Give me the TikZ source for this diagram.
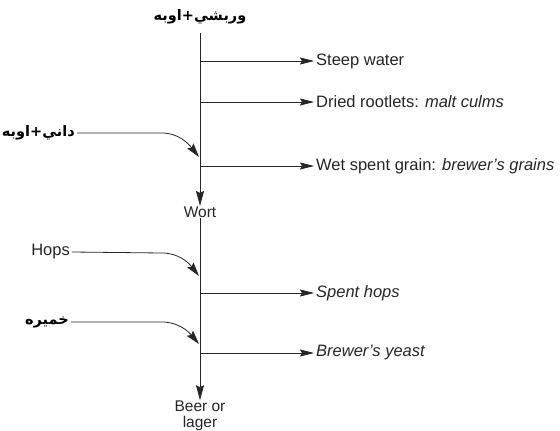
\documentclass[tikz,border=0pt]{standalone}
\usepackage{fontspec}
\setmainfont{Liberation Sans}
\newfontfamily\arabicfont[Script=Arabic]{DejaVu Sans}
\TeXXeTstate=1
\usetikzlibrary{arrows.meta}
\begin{document}
\begin{tikzpicture}[x=1pt,y=-1pt,
  ln/.style={draw=black!85,line width=0.8pt},
  arr/.style={ln,-{Stealth[length=14pt,width=7pt,inset=2pt]}},
  varr/.style={ln,-{Stealth[length=15pt,width=8pt,inset=2pt]}},
  carr/.style={ln,-{Stealth[length=14pt,width=8pt,inset=2pt]}},
  outtxt/.style={anchor=west,inner sep=2pt,font=\fontsize{16.5}{18}\selectfont,text=black!85},
  intxt/.style={anchor=east,inner sep=2pt,font=\fontsize{16.5}{18}\selectfont,text=black!85},
  artxt/.style={inner sep=2pt,font=\arabicfont\bfseries\fontsize{14.5}{17}\selectfont},
  midtxt/.style={inner sep=0.5pt,align=center,font=\fontsize{15.5}{15.5}\selectfont,text=black!85}]
\fill[white] (0,0) rectangle (560,431);
\useasboundingbox (0,0) rectangle (560,431);
% main column
\node[artxt] (top) at (200,17) {\beginR وربشي+اوبه\endR};
\node[midtxt,anchor=north] (wort) at (200,206) {Wort};
\node[midtxt,anchor=south] (beer) at (200,431) {Beer or\\lager};
\coordinate (c0) at (200,33);
\draw[varr] (c0) -- (wort.north);
\draw[varr] (wort.south) -- (beer.north);
% outputs
\node[outtxt] (o1) at (314,61) {Steep water};
\node[outtxt] (o2) at (314,102) {Dried rootlets: \textit{malt culms}};
\node[outtxt] (o3) at (314,166) {Wet spent grain: \textit{brewer’s grains}};
\node[outtxt] (o4) at (314,293) {\textit{Spent hops}};
\node[outtxt] (o5) at (314,353) {\textit{Brewer’s yeast}};
\coordinate (b1) at (200,61);
\coordinate (b2) at (200,102);
\coordinate (b3) at (200,166);
\coordinate (b4) at (200,293);
\coordinate (b5) at (200,353);
\foreach \i in {1,...,5} {\draw[arr] (b\i) -- (o\i.west);}
% inputs
\node[artxt,anchor=east] (i1) at (77,133) {\beginR داني+اوبه\endR};
\node[intxt] (i2) at (72,252) {Hops};
\node[artxt,anchor=east] (i3) at (71,322) {\beginR خميره\endR};
\coordinate (t1) at (199,157);
\coordinate (t2) at (199,276);
\coordinate (t3) at (199,344);
\draw[carr] (i1.east) -- (162,133) .. controls (178,133) and (188,143) .. (t1);
\draw[carr] (i2.east) -- (162,253) .. controls (178,253) and (188,262) .. (t2);
\draw[carr] (i3.east) -- (162,322) .. controls (178,322) and (188,331) .. (t3);
\end{tikzpicture}
\end{document}
